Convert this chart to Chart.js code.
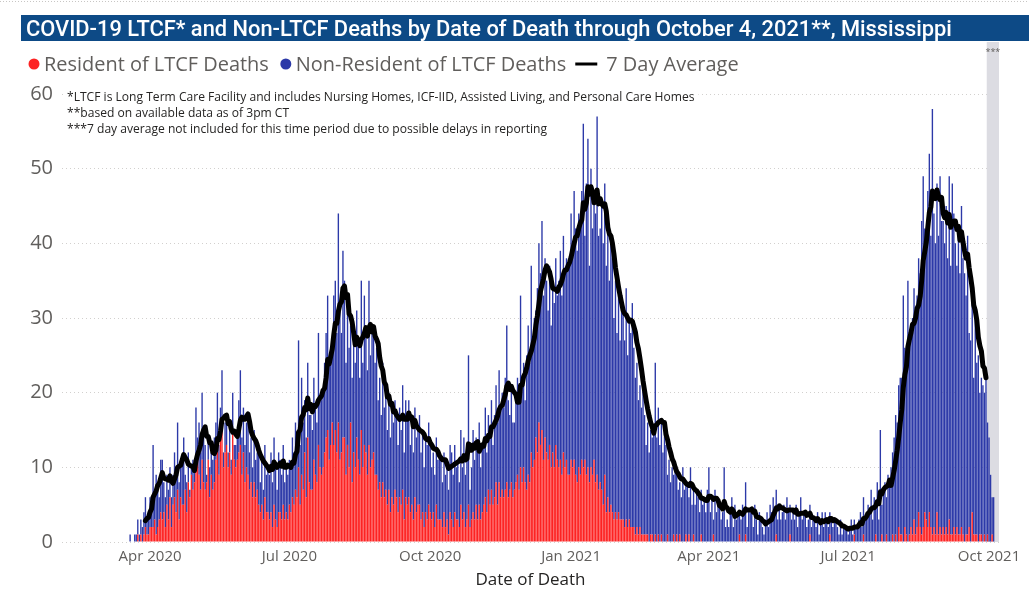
<!DOCTYPE html>
<html>
<head>
<meta charset="utf-8">
<title>COVID-19 LTCF and Non-LTCF Deaths, Mississippi</title>
<script src="https://cdn.jsdelivr.net/npm/chart.js@4.4.1/dist/chart.umd.min.js"></script>
<style>
  html, body { margin: 0; padding: 0; background: #fff; }
  #wrap { position: relative; width: 1029px; height: 609px; }
</style>
</head>
<body>
<div id="wrap"><canvas id="deaths"></canvas></div>
<script>
const TITLE = 'COVID-19 LTCF* and Non-LTCF Deaths by Date of Death through October 4, 2021**, Mississippi';
const NOTES = [
  '*LTCF is Long Term Care Facility and includes Nursing Homes, ICF-IID, Assisted Living, and Personal Care Homes',
  '**based on available data as of 3pm CT',
  '***7 day average not included for this time period due to possible delays in reporting'
];
const SERIES_NAMES = ['Resident of LTCF Deaths', 'Non-Resident of LTCF Deaths', '7 Day Average'];
const MONTHS = ['Jan', 'Feb', 'Mar', 'Apr', 'May', 'Jun', 'Jul', 'Aug', 'Sep', 'Oct', 'Nov', 'Dec'];
const Y_TICKS = [0, 10, 20, 30, 40, 50, 60];

// first bar is 2020-03-19, last is 2021-10-04; one line per week
const firstDay = '2020-03-19';

// all deaths per day (top of the stacked bar)
const totalDeaths = [
  1,0,0,1,1,3,1,
  3,2,4,6,3,4,6,
  6,13,7,9,8,6,11,
  11,8,6,9,7,10,6,
  9,12,10,16,8,11,11,
  14,9,8,12,7,10,11,
  10,18,14,16,12,20,15,
  13,9,14,10,12,11,14,
  16,20,13,18,23,12,16,
  17,12,15,11,20,13,13,
  15,19,23,14,18,13,16,
  17,12,14,10,15,11,12,
  12,8,11,7,13,9,10,
  9,12,8,14,10,7,12,
  11,9,13,8,10,9,11,
  10,14,12,16,13,27,13,
  22,16,19,14,24,17,17,
  15,22,18,16,28,19,19,
  20,24,28,33,24,26,26,
  33,35,28,44,31,28,39,
  35,24,31,26,29,22,29,
  24,31,27,22,35,24,33,
  29,23,35,25,28,29,24,
  26,19,22,17,24,18,21,
  15,20,14,18,16,19,17,
  13,18,15,21,12,19,17,
  19,13,16,12,18,14,15,
  17,12,15,10,14,13,16,
  13,10,12,9,14,11,12,
  11,8,12,9,10,7,13,
  12,9,13,10,11,8,15,
  10,14,9,11,25,7,10,
  15,11,14,12,16,10,13,
  14,18,12,17,15,19,13,
  17,21,16,23,18,20,18,
  22,29,19,17,21,16,16,
  20,22,19,33,21,24,19,
  25,29,24,37,27,30,31,
  34,40,36,43,33,38,35,
  31,37,29,35,32,38,33,
  35,39,33,41,36,38,37,
  38,44,40,47,42,39,44,
  43,47,56,41,48,54,37,
  50,42,46,44,57,41,42,
  45,40,48,37,42,35,40,
  38,30,35,28,33,27,33,
  31,27,34,25,30,28,32,
  26,22,24,19,21,18,21,
  17,13,16,12,15,14,15,
  24,14,18,13,16,12,15,
  13,9,11,8,10,9,10,
  9,7,8,6,10,7,8,
  8,6,10,5,7,5,7,
  6,4,7,5,6,4,7,
  10,4,6,3,7,4,5,
  5,3,4,10,2,3,2,
  4,6,2,5,3,4,4,
  3,5,4,8,2,4,4,
  4,2,5,3,1,4,3,
  2,1,3,4,2,5,4,
  6,4,7,3,5,3,4,
  5,3,6,4,5,3,4,
  3,5,2,4,6,3,4,
  4,2,3,5,2,3,3,
  2,4,1,3,4,2,4,
  3,2,4,3,2,3,3,
  2,1,3,1,2,2,2,
  1,2,3,1,3,2,2,
  3,4,2,6,3,4,5,
  4,7,3,6,5,8,3,
  15,5,7,8,6,9,8,
  10,12,14,17,16,21,22,
  22,33,26,24,35,28,28,
  30,34,31,33,38,36,43,
  49,42,40,47,52,41,58,
  44,40,48,41,49,43,43,
  40,45,38,49,37,48,44,
  40,37,41,36,45,38,36,
  33,41,28,27,35,22,31,
  24,25,20,22,21,20,22,
  16,14,9,6,6
];

// residents of long term care facilities (red, bottom of the stack)
const ltcfDeaths = [
  0,0,0,0,0,1,0,
  1,0,1,2,1,1,2,
  2,2,3,1,2,3,4,
  3,4,2,5,3,6,2,
  5,6,4,7,3,6,5,
  5,7,4,8,6,9,7,
  8,10,12,9,7,11,8,
  7,8,11,6,9,7,8,
  11,13,9,14,15,10,12,
  13,10,12,9,15,11,10,
  11,12,13,9,12,8,10,
  9,7,8,6,8,6,7,
  5,4,5,3,6,4,4,
  3,4,2,5,3,2,4,
  4,3,5,3,4,3,5,
  4,6,5,7,6,10,5,
  9,7,12,6,14,8,7,
  7,11,9,8,13,10,9,
  10,12,14,15,11,13,16,
  13,15,12,16,11,12,14,
  14,9,13,10,16,8,12,
  10,14,11,9,15,10,13,
  12,9,13,10,11,12,9,
  9,7,8,6,8,6,7,
  5,7,4,6,5,7,6,
  4,6,5,7,3,6,5,
  6,4,5,3,6,4,5,
  5,3,4,2,4,3,5,
  4,3,4,2,5,3,3,
  3,2,4,2,3,1,4,
  3,2,4,3,3,2,5,
  3,4,2,3,5,2,3,
  4,3,5,3,5,3,4,
  5,6,4,7,5,7,5,
  6,8,5,8,6,7,6,
  7,8,6,7,8,6,7,
  8,9,7,10,8,10,8,
  7,9,8,12,10,11,14,
  12,16,13,15,11,14,12,
  11,13,10,12,10,13,11,
  10,11,9,12,10,11,9,
  9,11,10,11,9,8,10,
  9,11,10,11,9,10,8,
  10,9,11,8,9,7,8,
  7,5,9,4,6,4,5,
  4,3,4,3,4,3,3,
  3,2,3,2,3,2,2,
  2,1,2,1,2,1,1,
  1,1,1,0,1,1,0,
  1,0,1,0,1,0,0,
  0,1,0,0,0,1,0,
  1,0,1,0,0,0,1,
  0,1,0,0,1,0,0,
  0,0,1,0,0,0,0,
  0,0,0,1,0,0,0,
  0,0,0,0,0,0,0,
  0,0,0,0,0,0,1,
  0,0,0,1,0,0,0,
  0,0,0,0,0,0,0,
  0,0,0,0,0,0,0,
  0,0,1,0,0,0,0,
  0,0,0,0,1,0,0,
  0,0,0,0,0,0,0,
  0,0,0,1,0,0,0,
  0,0,0,0,0,0,0,
  0,0,1,0,0,0,0,
  0,0,0,0,0,0,0,
  0,0,0,0,1,0,0,
  0,0,0,1,0,0,0,
  0,0,0,0,1,0,0,
  0,1,0,0,1,0,0,
  0,1,0,1,0,2,1,
  1,0,2,1,0,1,2,
  1,3,1,2,4,2,1,
  2,4,3,2,4,2,1,
  2,1,4,1,2,1,2,
  1,2,1,3,1,1,2,
  1,2,1,1,2,1,0,
  1,1,2,0,4,1,1,
  1,0,1,1,0,1,0,
  1,0,0,1,0
];

// the 7 day average is shown from the 11th day up to 5 days before the end
const avgFirst = 10;
const avgLast = totalDeaths.length - 6;

// the axis runs a bit wider than the data
const padBefore = 44;
const padAfter = 3;

const nonLtcfDeaths = totalDeaths.map((t, i) => t - ltcfDeaths[i]);
const avg7 = totalDeaths.map((t, i) => {
  if (i < avgFirst || i > avgLast) return null;
  let sum = 0;
  for (let k = i - 6; k <= i; k++) sum += totalDeaths[k];
  return sum / 7;
});

const dayLabels = [];
const start = new Date(firstDay + 'T00:00:00Z');
for (let i = -padBefore; i < totalDeaths.length + padAfter; i++) {
  const d = new Date(start.getTime() + i * 86400000);
  dayLabels.push(d.toISOString().slice(0, 10));
}
const pad = (arr) => [...Array(padBefore).fill(null), ...arr, ...Array(padAfter).fill(null)];

const RED = '#fd2222';
const BLUE = '#2c39a8';
const GREY_TEXT = '#605e5c';
const DARK_TEXT = '#252423';
const FONT = '"Open Sans", "Noto Sans", sans-serif';

Chart.defaults.font.family = FONT;

function fitFont(ctx, text, width, weight, family) {
  ctx.font = weight + ' 20px ' + family;
  const size = 20 * width / ctx.measureText(text).width;
  return weight + ' ' + size.toFixed(2) + 'px ' + family;
}

const decorations = {
  id: 'decorations',
  beforeDraw(chart) {
    const ctx = chart.ctx;
    ctx.save();
    ctx.fillStyle = '#fff';
    ctx.fillRect(0, 0, chart.width, chart.height);

    ctx.strokeStyle = '#c8c6c4';
    ctx.setLineDash([1, 2]);
    ctx.lineWidth = 1;
    ctx.beginPath();
    ctx.moveTo(0, 1.5);
    ctx.lineTo(chart.width, 1.5);
    ctx.stroke();
    ctx.setLineDash([]);

    // header bar
    ctx.fillStyle = '#0d4a86';
    ctx.fillRect(21, 15, chart.width - 21, 26);
    ctx.fillStyle = '#fff';
    ctx.textBaseline = 'alphabetic';
    ctx.font = fitFont(ctx, TITLE, 926, '500', 'Roboto, sans-serif');
    ctx.fillText(TITLE, 26, 36);
    ctx.restore();
  },
  beforeDatasetsDraw(chart) {
    // shaded period without a 7 day average
    const ctx = chart.ctx;
    const x = chart.scales.x;
    const step = x.getPixelForValue(1) - x.getPixelForValue(0);
    const left = x.getPixelForValue(padBefore + avgLast + 1) - step / 2;
    ctx.save();
    ctx.fillStyle = '#dcdce2';
    ctx.fillRect(left, 42, chart.chartArea.right - left, chart.chartArea.bottom - 42);
    ctx.fillStyle = GREY_TEXT;
    ctx.font = '9px ' + FONT;
    ctx.textAlign = 'center';
    ctx.textBaseline = 'middle';
    ctx.fillText('***', (left + chart.chartArea.right) / 2, 52);
    ctx.restore();
  },
  afterDraw(chart) {
    const ctx = chart.ctx;
    ctx.save();

    // legend
    ctx.font = fitFont(ctx, SERIES_NAMES[0], 225, '400', FONT);
    ctx.textBaseline = 'alphabetic';
    let x = 28;
    chart.data.datasets.forEach((ds) => {
      if (ds.type === 'line') {
        ctx.strokeStyle = ds.borderColor;
        ctx.lineWidth = 3;
        ctx.beginPath();
        ctx.moveTo(x - 2, 64);
        ctx.lineTo(x + 20, 64);
        ctx.stroke();
        x += 29;
      } else {
        ctx.fillStyle = ds.backgroundColor;
        ctx.beginPath();
        ctx.arc(x + 6, 64, 5.5, 0, Math.PI * 2);
        ctx.fill();
        x += 16;
      }
      ctx.fillStyle = GREY_TEXT;
      ctx.fillText(ds.label, x, 71);
      x += ctx.measureText(ds.label).width + 11;
    });

    // footnotes
    ctx.font = fitFont(ctx, NOTES[0], 628, '400', FONT);
    const w0 = ctx.measureText(NOTES[0]).width;
    ctx.fillStyle = '#fff';
    ctx.fillRect(63, 88, w0 + 8, 16);
    ctx.fillStyle = DARK_TEXT;
    NOTES.forEach((line, i) => ctx.fillText(line, 67, 101 + i * 16));
    ctx.restore();
  }
};

new Chart(document.getElementById('deaths'), {
  data: {
    labels: dayLabels,
    datasets: [
      {
        type: 'bar',
        label: SERIES_NAMES[0],
        data: pad(ltcfDeaths),
        backgroundColor: RED,
        stack: 'deaths',
        order: 1
      },
      {
        type: 'bar',
        label: SERIES_NAMES[1],
        data: pad(nonLtcfDeaths),
        backgroundColor: BLUE,
        stack: 'deaths',
        order: 2
      },
      {
        type: 'line',
        label: SERIES_NAMES[2],
        data: pad(avg7),
        borderColor: '#000',
        borderWidth: 5,
        pointRadius: 0,
        tension: 0,
        borderJoinStyle: 'round',
        borderCapStyle: 'round',
        stack: 'avg',
        order: 0
      }
    ]
  },
  options: {
    responsive: true,
    maintainAspectRatio: false,
    animation: false,
    events: [],
    layout: { padding: { top: 94, right: 30, bottom: 0, left: 0 } },
    datasets: {
      bar: { barPercentage: 1, categoryPercentage: 0.9, borderWidth: 0 }
    },
    plugins: {
      legend: { display: false },
      tooltip: { enabled: false }
    },
    scales: {
      x: {
        stacked: true,
        grid: { display: false },
        border: { display: false },
        ticks: {
          autoSkip: false,
          maxRotation: 0,
          minRotation: 0,
          padding: -2,
          color: GREY_TEXT,
          font: { size: 15 },
          callback(value) {
            const d = new Date(dayLabels[value] + 'T00:00:00Z');
            if (d.getUTCDate() === 1 && d.getUTCMonth() % 3 === 0) {
              return MONTHS[d.getUTCMonth()] + ' ' + d.getUTCFullYear();
            }
            return '';
          }
        },
        title: {
          display: true,
          text: 'Date of Death',
          color: DARK_TEXT,
          font: { size: 17 },
          padding: { top: 4, bottom: 19 }
        },
        afterFit(scale) { scale.height = 67; }
      },
      y: {
        stacked: true,
        min: Y_TICKS[0],
        max: Y_TICKS[Y_TICKS.length - 1],
        grid: { color: '#d2d0ce', drawTicks: false },
        border: { display: false, dash: [1, 3] },
        ticks: {
          stepSize: 10,
          padding: 9,
          color: GREY_TEXT,
          font: { size: 20 }
        },
        afterFit(scale) { scale.width = 62; }
      }
    }
  },
  plugins: [decorations]
});
</script>
</body>
</html>
